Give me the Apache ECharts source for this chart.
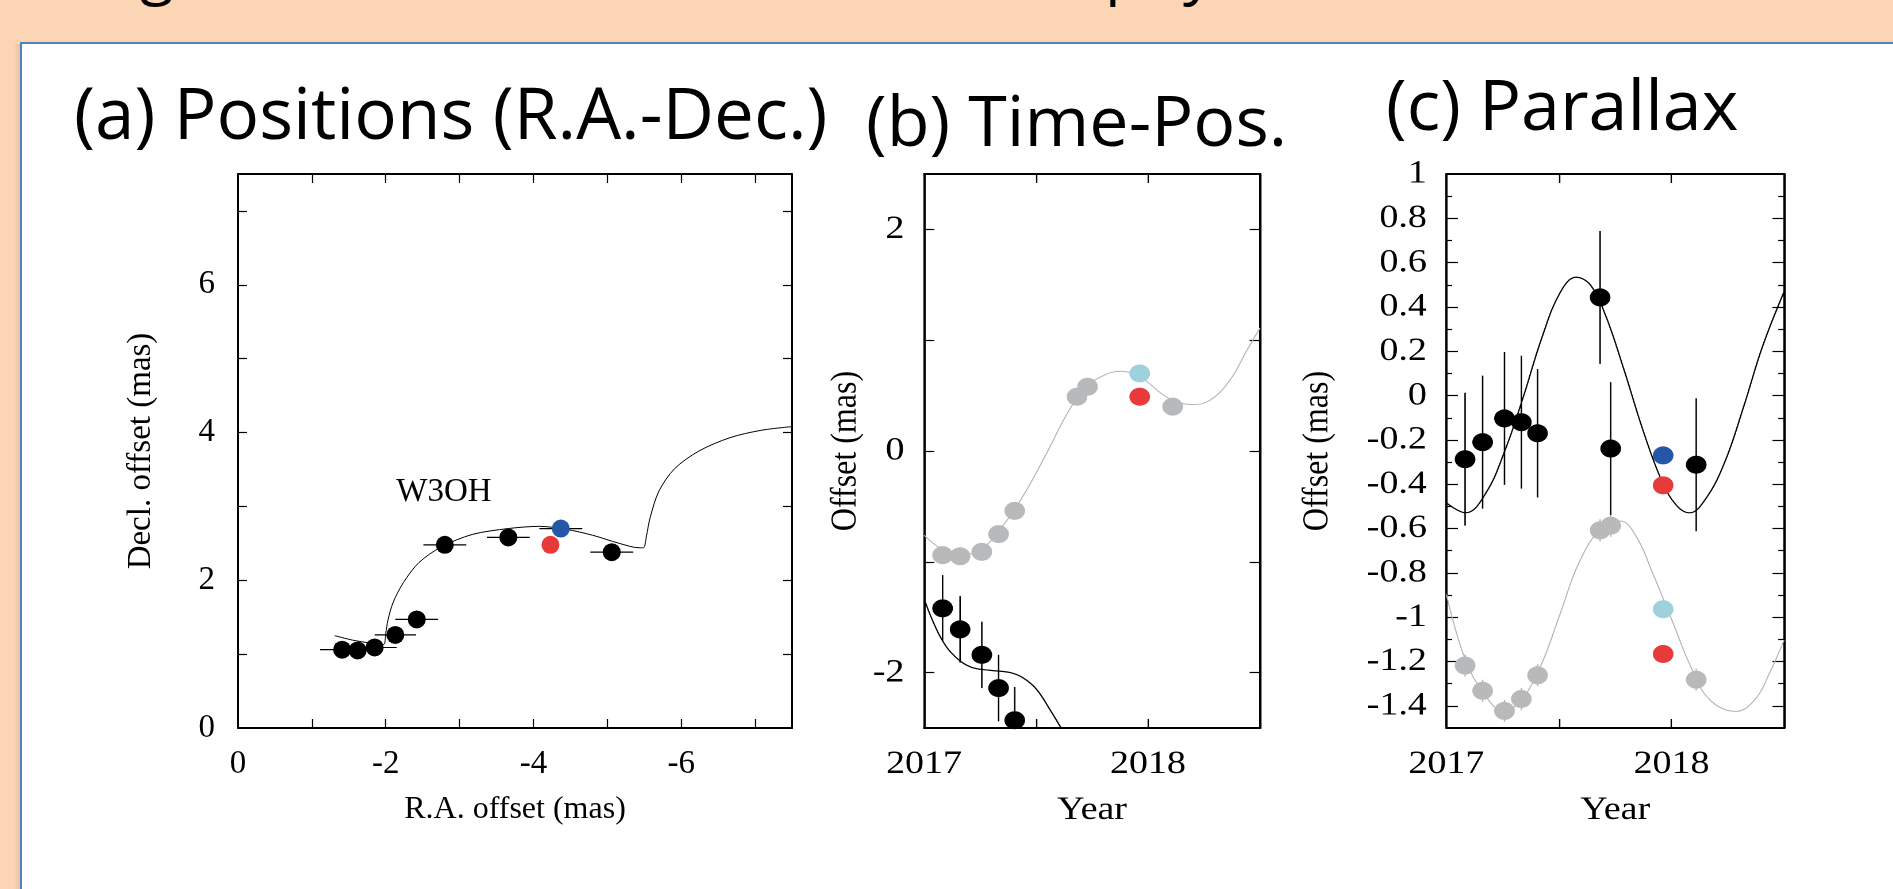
<!DOCTYPE html>
<html>
<head>
<meta charset="utf-8">
<title>W3OH</title>
<script src="https://cdn.jsdelivr.net/npm/echarts/dist/echarts.min.js"></script>
<style>
  html, body { margin: 0; padding: 0; width: 1893px; height: 889px; overflow: hidden; background: #fcd5b4; }
  #main { position: absolute; left: 0; top: 0; width: 1893px; height: 889px; }
  .stretch { position: absolute; transform-origin: 0 0; }
</style>
</head>
<body>
<div id="main"></div>
<div id="panelB" class="stretch"></div>
<div id="panelC" class="stretch"></div>
<script>
// ---------------- data ----------------
// (a) positions on the sky (mas)
const raBlack = [-1.41, -1.62, -1.85, -2.13, -2.42, -2.80, -3.66, -5.06]
const decBlack = [1.06, 1.05, 1.09, 1.26, 1.47, 2.48, 2.58, 2.38]
const raErrBlack = [0.30, 0.25, 0.30, 0.28, 0.29, 0.29, 0.29, 0.29]
const raBlue = [-4.37], decBlue = [2.70], raErrBlue = [0.29]
const raRed = [-4.23], decRed = [2.48]
// model track
const modelRA = [-1.31, -1.55, -1.79, -1.97, -2.00, -2.03, -2.10, -2.24, -2.45, -2.75, -3.17, -3.66, -4.08, -4.44, -4.80, -5.16, -5.43, -5.49, -5.53, -5.58, -5.70, -5.91, -6.24, -6.66, -7.08, -7.50]
const modelDec = [1.25, 1.19, 1.15, 1.13, 1.28, 1.46, 1.70, 1.97, 2.24, 2.45, 2.62, 2.70, 2.73, 2.69, 2.61, 2.50, 2.44, 2.44, 2.60, 2.85, 3.21, 3.51, 3.75, 3.93, 4.03, 4.08]

// epochs (year)
const epochs = [2017.083, 2017.161, 2017.258, 2017.333, 2017.405, 2017.683, 2017.730, 2018.110]
const epochNew = [2017.963]

// (b) time - position
const bGray = [-0.94, -0.95, -0.91, -0.75, -0.54, 0.49, 0.58, 0.40]
const bBlack = [-1.42, -1.61, -1.84, -2.14, -2.43]
const bBlackErr = [0.30, 0.30, 0.30, 0.30, 0.30]
const bLightBlue = [0.70]
const bRed = [0.49]
const bGrayCurveT = [2017.0, 2017.082, 2017.16, 2017.258, 2017.35, 2017.45, 2017.55, 2017.64, 2017.72, 2017.8, 2017.88, 2017.971, 2018.059, 2018.132, 2018.205, 2018.278, 2018.366, 2018.439, 2018.5]
const bGrayCurve = [-0.76, -0.89, -0.94, -0.88, -0.68, -0.38, -0.01, 0.34, 0.57, 0.68, 0.72, 0.66, 0.52, 0.44, 0.42, 0.46, 0.64, 0.90, 1.11]
const bBlackCurveT = [2017.0, 2017.034, 2017.082, 2017.136, 2017.209, 2017.297, 2017.385, 2017.444, 2017.502, 2017.561, 2017.612]
const bBlackCurve = [-1.33, -1.51, -1.71, -1.85, -1.95, -1.98, -2.00, -2.05, -2.15, -2.33, -2.50]

// (c) parallax
const cBlack = [-0.287, -0.21, -0.103, -0.12, -0.17, 0.443, -0.239, -0.312]
const cBlackErr = [0.30, 0.30, 0.30, 0.30, 0.29, 0.30, 0.30, 0.30]
const cGray = [-1.218, -1.332, -1.423, -1.369, -1.262, -0.608, -0.587, -1.282]
const cGrayErr = [0.05, 0.05, 0.05, 0.05, 0.05, 0.05, 0.05, 0.05]
const cBlue = [-0.27], cRed1 = [-0.405]
const cLightBlue = [-0.964], cRed2 = [-1.166]
const cBlackCurveT = [2017.0, 2017.086, 2017.174, 2017.257, 2017.341, 2017.424, 2017.507, 2017.576, 2017.64, 2017.706, 2017.789, 2017.872, 2017.955, 2018.021, 2018.08, 2018.154, 2018.238, 2018.321, 2018.404, 2018.5]
const cBlackCurve = [-0.484, -0.529, -0.442, -0.256, -0.008, 0.261, 0.468, 0.534, 0.499, 0.365, 0.117, -0.152, -0.380, -0.494, -0.529, -0.463, -0.297, -0.049, 0.22, 0.468]
const cGrayCurveT = [2017.0, 2017.075, 2017.158, 2017.257, 2017.341, 2017.424, 2017.507, 2017.59, 2017.689, 2017.772, 2017.839, 2017.922, 2018.005, 2018.088, 2018.171, 2018.287, 2018.37, 2018.437, 2018.5]
const cGrayCurve = [-0.897, -1.166, -1.332, -1.425, -1.363, -1.208, -0.98, -0.752, -0.597, -0.566, -0.628, -0.815, -1.021, -1.228, -1.373, -1.425, -1.373, -1.249, -1.104]

// ticks and labels
const aXTicks = [-1, -2, -3, -4, -5, -6, -7]
const aXLabels = [0, -2, -4, -6]
const aYTicks = [1, 2, 3, 4, 5, 6, 7]
const aYLabels = [0, 2, 4, 6]
const yearTicks = [2017.5, 2018]
const yearLabels = [2017, 2018]
const bYTicks = [-2, -1, 0, 1, 2]
const bYLabels = [-2, 0, 2]
const cYTicksMajor = [-1.4, -1.2, -1, -0.8, -0.6, -0.4, -0.2, 0, 0.2, 0.4, 0.6, 0.8]
const cYTicksMinor = [-1.3, -1.1, -0.9, -0.7, -0.5, -0.3, -0.1, 0.1, 0.3, 0.5, 0.7, 0.9]
const cYLabels = [-1.4, -1.2, -1, -0.8, -0.6, -0.4, -0.2, 0, 0.2, 0.4, 0.6, 0.8, 1]

// ---------------- helpers ----------------
const serif = 'Liberation Serif'
const sans = 'Open Sans'
const RED = '#e93a3b'
const BLUE = '#2458a6'
const LIGHTBLUE = '#9fd0dd'
const GRAY = '#b8b9bb'

const zip = (xs, ys) => xs.map((x, i) => [x, ys[i]])
const zip3 = (xs, ys, es) => xs.map((x, i) => [x, ys[i], es[i]])

const makeAxis = (pos, min, max, ticks, labels, cfg) => {
  const a = {
    type: 'value', position: pos, min: min, max: max, inverse: !!cfg.inverse,
    axisLine: { show: cfg.line !== false, onZero: false, lineStyle: { color: '#000', width: 2 } },
    axisTick: { show: true, inside: true, length: cfg.tickLen, customValues: ticks, lineStyle: { color: '#000', width: 1.2 } },
    axisLabel: { show: false },
    splitLine: { show: false }
  }
  if (labels) {
    a.axisLabel = {
      show: true, customValues: labels, margin: cfg.margin, color: '#000',
      fontFamily: serif, fontSize: cfg.fontSize, formatter: v => String(v)
    }
  }
  if (cfg.name) {
    a.name = cfg.name
    a.nameLocation = 'middle'
    a.nameGap = cfg.nameGap
    a.nameTextStyle = { fontFamily: serif, fontSize: cfg.nameSize, color: '#000' }
    if (pos === 'left') a.nameRotate = 90
  }
  return a
}

// error bar drawn through the axis scales, clipped to the plot box
const errBar = (dir, color, width) => (params, api) => {
  const x = api.value(0), y = api.value(1), e = api.value(2)
  const p1 = dir === 'x' ? api.coord([x - e, y]) : api.coord([x, y - e])
  const p2 = dir === 'x' ? api.coord([x + e, y]) : api.coord([x, y + e])
  const r = params.coordSys
  const cy = v => Math.min(r.y + r.height, Math.max(r.y, v))
  return {
    type: 'line',
    shape: { x1: p1[0], y1: cy(p1[1]), x2: p2[0], y2: cy(p2[1]) },
    style: { stroke: color, lineWidth: width }
  }
}

const curve = (data, color, width, smooth) => ({
  type: 'line', data: data, symbol: 'none', smooth: smooth,
  lineStyle: { color: color, width: width }, z: 2, silent: true
})
const dots = (data, color, size) => ({
  type: 'scatter', data: data, symbolSize: size, itemStyle: { color: color, opacity: 1 }, z: 4, silent: true
})
const bars = (dir, data, color, width) => ({
  type: 'custom', data: data, renderItem: errBar(dir, color, width), encode: { x: 0, y: 1 }, z: 3, silent: true
})

// plot box geometry (page pixels)
const BOX_TOP = 174
const BOX_BOTTOM = 728
const STRETCH = 1.15

// ---------------- main chart: slide + panel (a) ----------------
const mainChart = echarts.init(document.getElementById('main'))
mainChart.setOption({
  animation: false,
  graphic: [
    { type: 'rect', z: -20, shape: { x: 0, y: 0, width: 1893, height: 889 }, style: { fill: '#fcd5b4' } },
    { type: 'rect', z: -19, shape: { x: 14, y: 44, width: 7, height: 845 }, style: { fill: new echarts.graphic.LinearGradient(0, 0, 1, 0, [{ offset: 0, color: '#fcd5b4' }, { offset: 1, color: '#e2bea2' }]) } },
    { type: 'rect', z: -18, shape: { x: 22, y: 44, width: 1871, height: 845 }, style: { fill: '#ffffff' } },
    { type: 'rect', z: -17, shape: { x: 20, y: 42, width: 1873, height: 2 }, style: { fill: '#4f81bd' } },
    { type: 'rect', z: -17, shape: { x: 20, y: 42, width: 2, height: 847 }, style: { fill: '#4f81bd' } },
    // slide heading, only its descenders stay on screen
    { type: 'text', x: 140, y: -26, style: { text: 'g', fontFamily: sans, fontSize: 62, fill: '#000', verticalAlign: 'middle' } },
    { type: 'text', x: 1105, y: -26, style: { text: 'p', fontFamily: sans, fontSize: 62, fill: '#000', verticalAlign: 'middle' } },
    { type: 'text', x: 1183, y: -26, style: { text: 'y', fontFamily: sans, fontSize: 62, fill: '#000', verticalAlign: 'middle' } },
    // panel titles
    { type: 'text', x: 74, y: 119, style: { text: '(a) Positions (R.A.-Dec.)', fontFamily: sans, fontSize: 71, fill: '#000', verticalAlign: 'middle' } },
    { type: 'text', x: 866, y: 126, style: { text: '(b) Time-Pos.', fontFamily: sans, fontSize: 70, fill: '#000', verticalAlign: 'middle' } },
    { type: 'text', x: 1386, y: 110, style: { text: '(c) Parallax', fontFamily: sans, fontSize: 70, fill: '#000', verticalAlign: 'middle' } },
    // source name
    { type: 'text', x: 444, y: 492, style: { text: 'W3OH', fontFamily: serif, fontSize: 33, fill: '#000', align: 'center', verticalAlign: 'middle' } }
  ],
  grid: { left: 238, top: BOX_TOP, width: 554, height: BOX_BOTTOM - BOX_TOP },
  xAxis: [
    makeAxis('bottom', -7.5, 0, aXTicks, aXLabels, { inverse: true, tickLen: 9, margin: 20, fontSize: 33, name: 'R.A. offset (mas)', nameGap: 66, nameSize: 32 }),
    makeAxis('top', -7.5, 0, aXTicks, null, { inverse: true, tickLen: 9 })
  ],
  yAxis: [
    makeAxis('left', 0, 7.5, aYTicks, aYLabels, { tickLen: 9, margin: 23, fontSize: 33, name: 'Decl. offset (mas)', nameGap: 80, nameSize: 33 }),
    makeAxis('right', 0, 7.5, aYTicks, null, { tickLen: 9 })
  ],
  series: [
    curve(zip(modelRA, modelDec), '#000', 1, 0.3),
    bars('x', zip3(raBlack, decBlack, raErrBlack), '#000', 1.2),
    bars('x', zip3(raBlue, decBlue, raErrBlue), '#000', 1.2),
    dots(zip(raBlack, decBlack), '#000', 18),
    dots(zip(raRed, decRed), RED, 18),
    dots(zip(raBlue, decBlue), BLUE, 18)
  ]
})

// ---------------- panels (b) and (c): drawn narrow, stretched sideways ----------------
const stretchedPanel = (id, divLeft, boxLeft, boxRight, opt) => {
  const el = document.getElementById(id)
  const divTop = 140
  el.style.left = divLeft + 'px'
  el.style.top = divTop + 'px'
  el.style.width = ((1893 - divLeft) / STRETCH) + 'px'
  el.style.height = (889 - divTop) + 'px'
  el.style.transform = 'scaleX(' + STRETCH + ')'
  const chart = echarts.init(el, null, { devicePixelRatio: 2 })
  opt.animation = false
  opt.grid = {
    left: (boxLeft - divLeft) / STRETCH, top: BOX_TOP - divTop,
    width: (boxRight - boxLeft) / STRETCH, height: BOX_BOTTOM - BOX_TOP
  }
  chart.setOption(opt)
  return chart
}

const yearAxes = () => [
  makeAxis('bottom', 2017, 2018.5, yearTicks, yearLabels, { tickLen: 9, margin: 20, fontSize: 33, name: 'Year', nameGap: 66, nameSize: 33 }),
  makeAxis('top', 2017, 2018.5, yearTicks, null, { tickLen: 9 })
]

const newEpochs = (vals) => zip(epochNew, vals)

stretchedPanel('panelB', 790, 924, 1260, {
  xAxis: yearAxes(),
  yAxis: [
    makeAxis('left', -2.5, 2.5, bYTicks, bYLabels, { tickLen: 9, margin: 17, fontSize: 33, name: 'Offset (mas)', nameGap: 52, nameSize: 32 }),
    makeAxis('right', -2.5, 2.5, bYTicks, null, { tickLen: 9 })
  ],
  series: [
    curve(zip(bGrayCurveT, bGrayCurve), '#b4b4b4', 1, 0.4),
    curve(zip(bBlackCurveT, bBlackCurve), '#000', 1.2, 0.4),
    bars('y', zip3(epochs.slice(0, bBlack.length), bBlack, bBlackErr), '#000', 1.3),
    dots(zip(epochs, bGray), GRAY, 18),
    dots(zip(epochs.slice(0, bBlack.length), bBlack), '#000', 18),
    dots(newEpochs(bLightBlue), LIGHTBLUE, 18),
    dots(newEpochs(bRed), RED, 18)
  ]
})

stretchedPanel('panelC', 1290, 1444, 1784, {
  xAxis: yearAxes(),
  yAxis: [
    makeAxis('left', -1.5, 1, cYTicksMajor, cYLabels, { tickLen: 10, margin: 17, fontSize: 33, name: 'Offset (mas)', nameGap: 96, nameSize: 32 }),
    makeAxis('right', -1.5, 1, cYTicksMajor, null, { tickLen: 10 }),
    makeAxis('left', -1.5, 1, cYTicksMinor, null, { tickLen: 5, line: false }),
    makeAxis('right', -1.5, 1, cYTicksMinor, null, { tickLen: 5, line: false })
  ],
  series: [
    curve(zip(cGrayCurveT, cGrayCurve), '#b4b4b4', 1, 0.4),
    curve(zip(cBlackCurveT, cBlackCurve), '#000', 1.2, 0.4),
    bars('y', zip3(epochs, cGray, cGrayErr), '#b4b4b4', 1.2),
    bars('y', zip3(epochs, cBlack, cBlackErr), '#000', 1.3),
    dots(zip(epochs, cGray), GRAY, 18),
    dots(zip(epochs, cBlack), '#000', 18),
    dots(newEpochs(cBlue), BLUE, 18),
    dots(newEpochs(cRed1), RED, 18),
    dots(newEpochs(cLightBlue), LIGHTBLUE, 18),
    dots(newEpochs(cRed2), RED, 18)
  ]
})
</script>
</body>
</html>
